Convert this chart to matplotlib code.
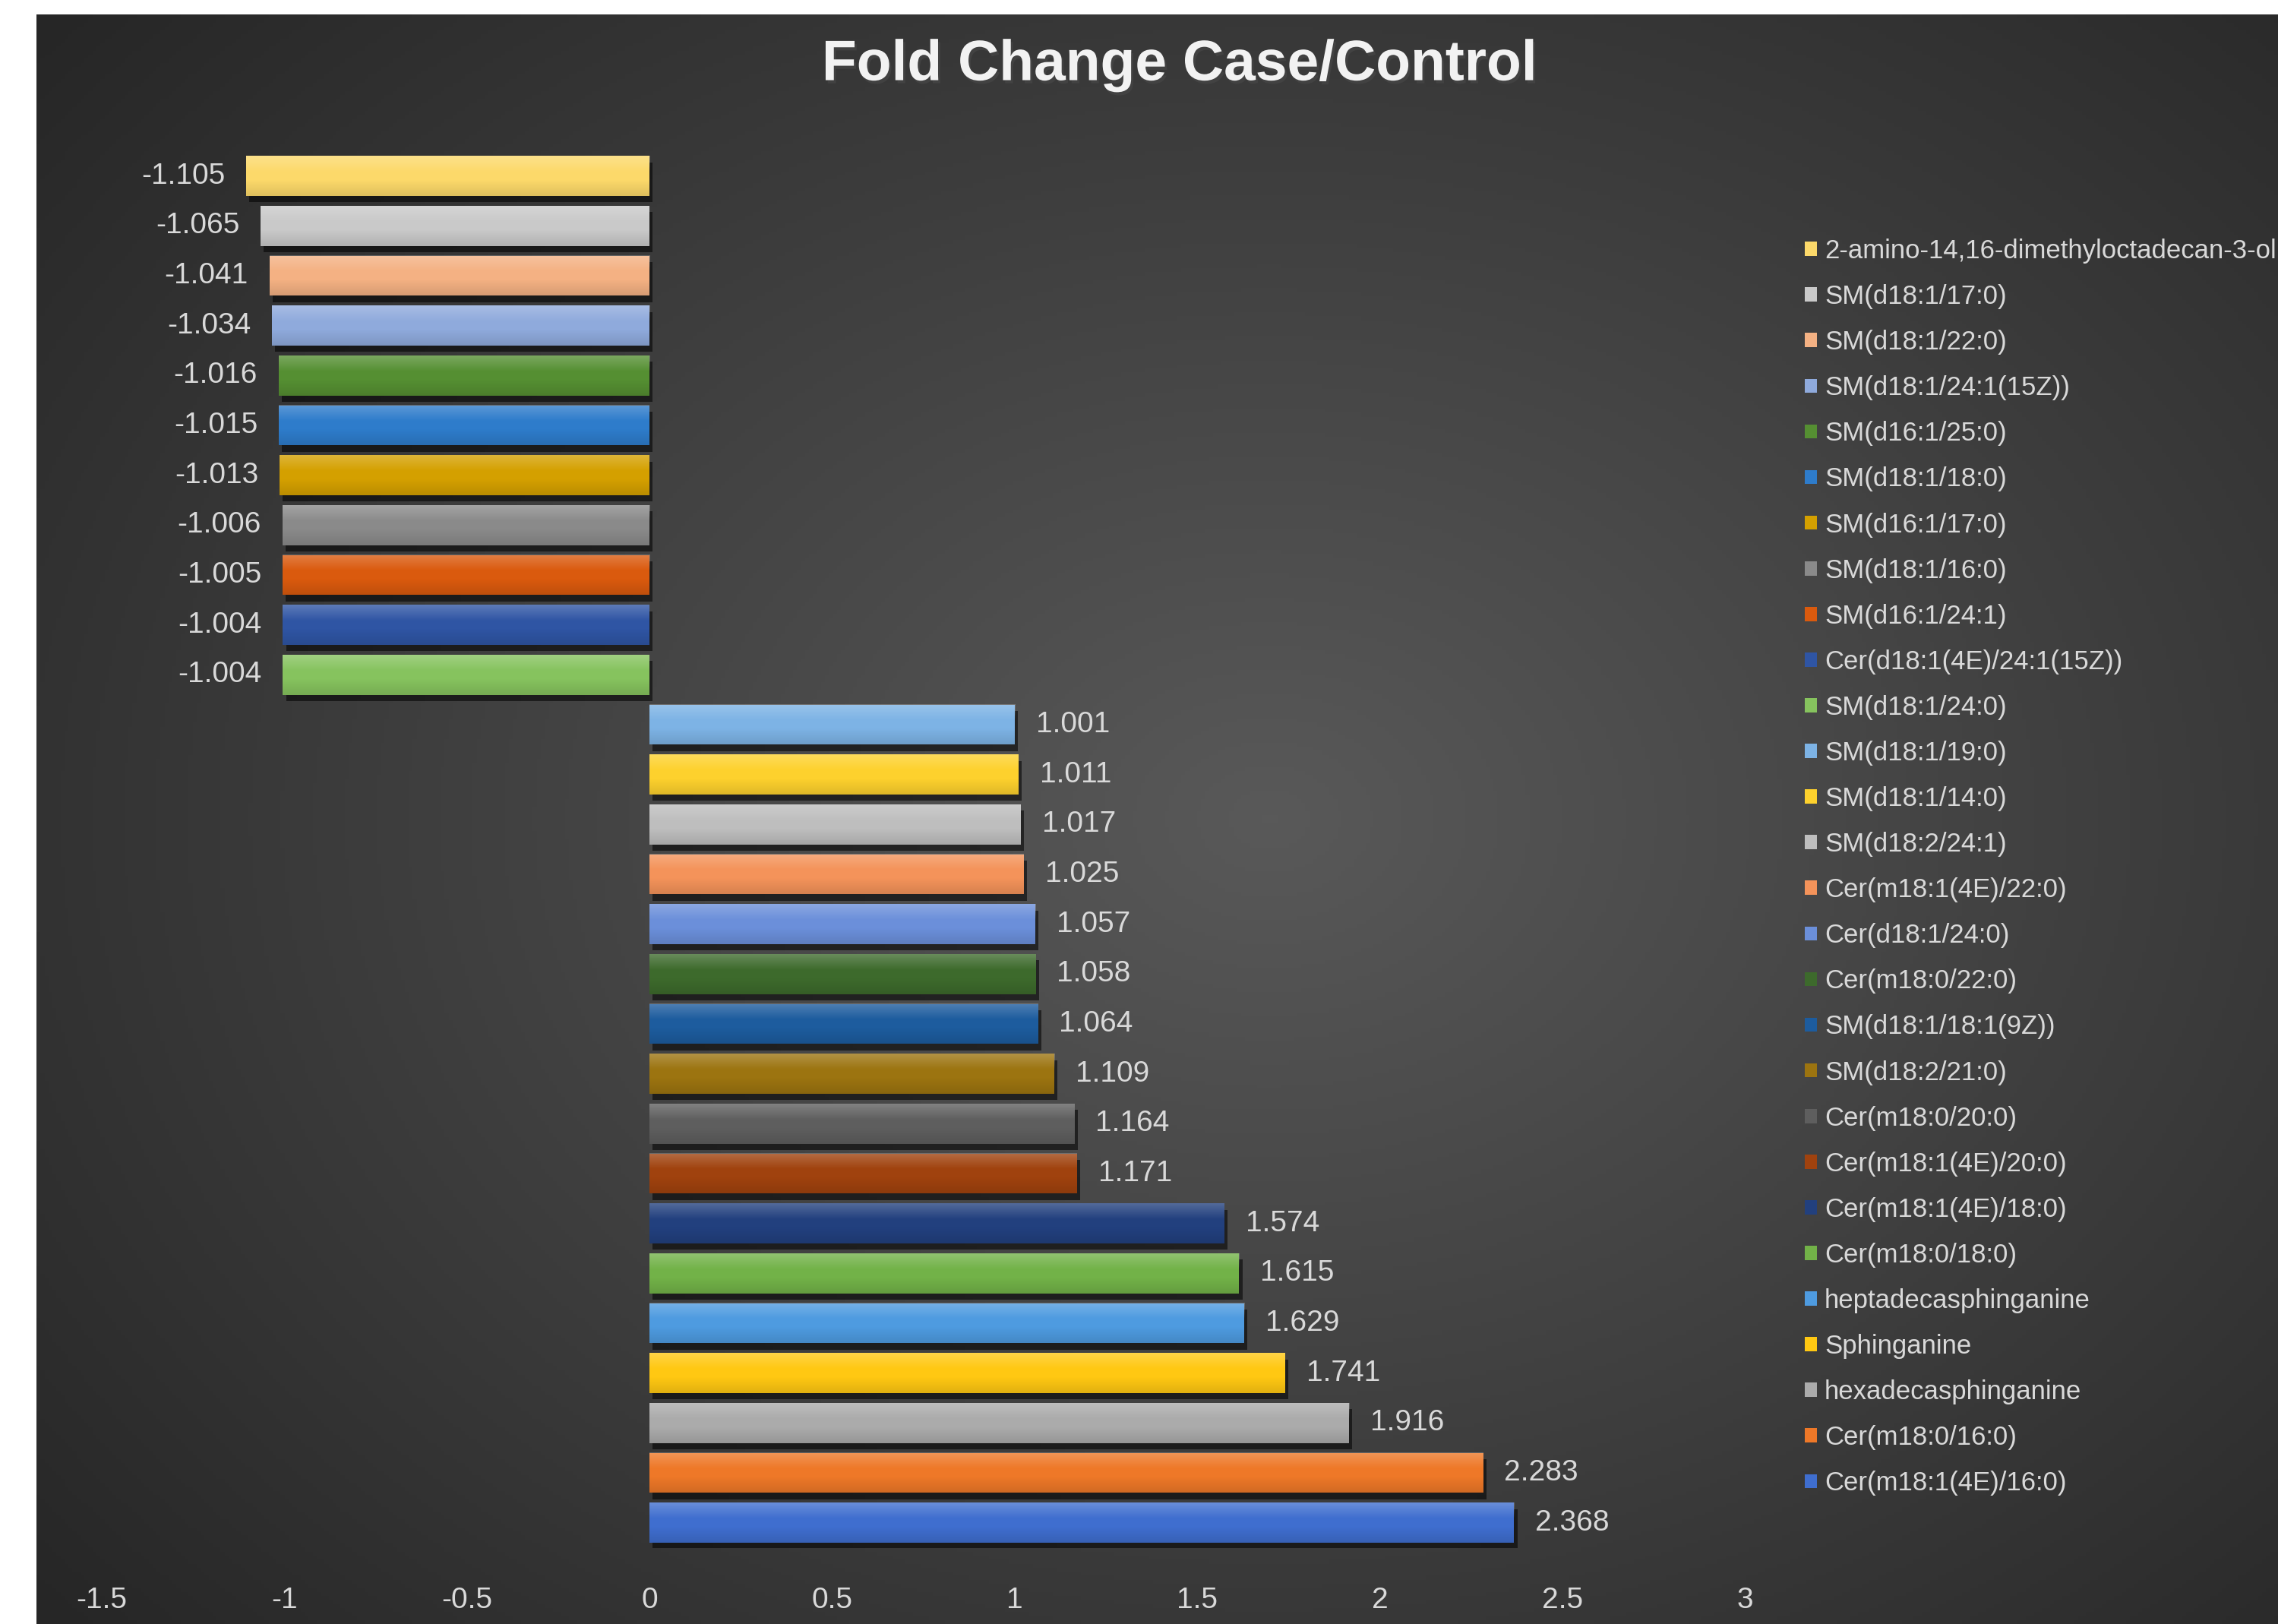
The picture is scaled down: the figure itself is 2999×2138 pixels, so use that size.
import numpy as np
import matplotlib
matplotlib.use("Agg")
import matplotlib.pyplot as plt
import matplotlib.patheffects as pe
from matplotlib.patches import Patch

# data, top bar first
names = [
    "2-amino-14,16-dimethyloctadecan-3-ol", "SM(d18:1/17:0)", "SM(d18:1/22:0)",
    "SM(d18:1/24:1(15Z))", "SM(d16:1/25:0)", "SM(d18:1/18:0)", "SM(d16:1/17:0)",
    "SM(d18:1/16:0)", "SM(d16:1/24:1)", "Cer(d18:1(4E)/24:1(15Z))", "SM(d18:1/24:0)",
    "SM(d18:1/19:0)", "SM(d18:1/14:0)", "SM(d18:2/24:1)", "Cer(m18:1(4E)/22:0)",
    "Cer(d18:1/24:0)", "Cer(m18:0/22:0)", "SM(d18:1/18:1(9Z))", "SM(d18:2/21:0)",
    "Cer(m18:0/20:0)", "Cer(m18:1(4E)/20:0)", "Cer(m18:1(4E)/18:0)", "Cer(m18:0/18:0)",
    "heptadecasphinganine", "Sphinganine", "hexadecasphinganine", "Cer(m18:0/16:0)",
    "Cer(m18:1(4E)/16:0)",
]
fold_change = [
    -1.105, -1.065, -1.041, -1.034, -1.016, -1.015, -1.013, -1.006, -1.005, -1.004, -1.004,
    1.001, 1.011, 1.017, 1.025, 1.057, 1.058, 1.064, 1.109, 1.164, 1.171,
    1.574, 1.615, 1.629, 1.741, 1.916, 2.283, 2.368,
]
bar_colors = [
    "#FCD96A", "#C9C9C9", "#F4B183", "#8FAADC", "#558F32", "#2E7CCB", "#D4A000",
    "#8A8A8A", "#DA5A0E", "#2F55A4", "#86C35E", "#7DB3E5", "#FDD12D", "#BEBEBE",
    "#F4935A", "#6B8FDA", "#3D6A2C", "#1D5C9E", "#9C7410", "#5E5E5E", "#A0420E",
    "#22407E", "#72B248", "#4E9BE0", "#FFC812", "#ABABAB", "#EE7828", "#3F6ECF",
]
xticks = [-1.5, -1, -0.5, 0, 0.5, 1, 1.5, 2, 2.5, 3]
xtick_labels = ["-1.5", "-1", "-0.5", "0", "0.5", "1", "1.5", "2", "2.5", "3"]

plt.rcParams['font.family'] = ['Liberation Sans', 'DejaVu Sans']
W, H = 2999, 2138
fig = plt.figure(figsize=(W / 100, H / 100), dpi=100, facecolor="white")

# dark radial background
bg = fig.add_axes([48 / W, 0, 1 - 48 / W, 1 - 19 / H])
yy, xx = np.mgrid[0:1:400j, 0:1:560j]
r = np.sqrt(((xx - 0.55) / 1.0) ** 2 + ((yy - 0.5) / 1.05) ** 2)
shade = np.clip(1 - r / 0.72, 0, 1)
lo, hi = 0.15, 0.35
img = lo + (hi - lo) * shade
bg.imshow(np.dstack([img, img, img]), aspect="auto", extent=(0, 1, 0, 1))
bg.axis("off")
bg.set_zorder(-5)

ax = fig.add_axes([0.0447, 0.047, 0.766 - 0.0447, 0.907 - 0.047])
ax.patch.set_alpha(0)
pos = np.arange(len(names))
bars = ax.barh(pos, fold_change, height=0.8, color=bar_colors, zorder=3)
for b in bars:
    b.set_path_effects([pe.SimplePatchShadow(offset=(3, -6), alpha=0.55, shadow_rgbFace="black"),
                        pe.Normal()])
    # soft highlight at top, darker at bottom
    x0, y0, w, h = b.get_x(), b.get_y(), b.get_width(), b.get_height()
    g = np.linspace(0, 1, 50)[:, None]
    rgba = np.zeros((50, 2, 4))
    top = np.clip(1 - g / 0.4, 0, 1)[:, 0]
    bot = np.clip((g - 0.6) / 0.4, 0, 1)[:, 0]
    rgba[:, :, :3] = np.where(top[:, None, None] > 0, 1.0, 0.0)
    rgba[:, :, 3] = (0.22 * top + 0.12 * bot)[:, None]
    ax.imshow(rgba, extent=(x0, x0 + w, y0 + h, y0), aspect="auto", zorder=4,
              interpolation="bilinear", origin="upper")

for v, p in zip(fold_change, pos):
    if v < 0:
        ax.annotate(f"{v:.3f}", (v, p), xytext=(-20, 0), textcoords="offset points",
                    ha="right", va="center", fontsize=28, color="#d9d9d9", zorder=5)
    else:
        ax.annotate(f"{v:.3f}", (v, p), xytext=(20, 0), textcoords="offset points",
                    ha="left", va="center", fontsize=28, color="#d9d9d9", zorder=5)

ax.set_xlim(-1.5, 3)
ax.set_ylim(len(names) - 0.5, -0.5)
ax.set_xticks(xticks)
ax.set_xticklabels(xtick_labels)
ax.set_yticks([])
ax.tick_params(axis="x", length=0, pad=37, labelsize=28, labelcolor="#d9d9d9")
for s in ax.spines.values():
    s.set_visible(False)

fig.text(1553 / W, 1 - 86 / H, "Fold Change Case/Control", ha="center", va="center",
         fontsize=54, fontweight="bold", color="#f2f2f2",
         path_effects=[pe.withSimplePatchShadow(offset=(2, -3), alpha=0.6)])

handles = [Patch(facecolor=c, edgecolor="none") for c in bar_colors]
fig.legend(handles, names, loc="upper left", bbox_to_anchor=(2376 / W, 1 - 314 / H),
           frameon=False, fontsize=25, labelcolor="#d9d9d9", handlelength=0.45,
           handleheight=0.45, handletextpad=0.3, labelspacing=0.78, borderpad=0,
           borderaxespad=0)

fig.savefig("out.png", dpi=100, facecolor="white")
